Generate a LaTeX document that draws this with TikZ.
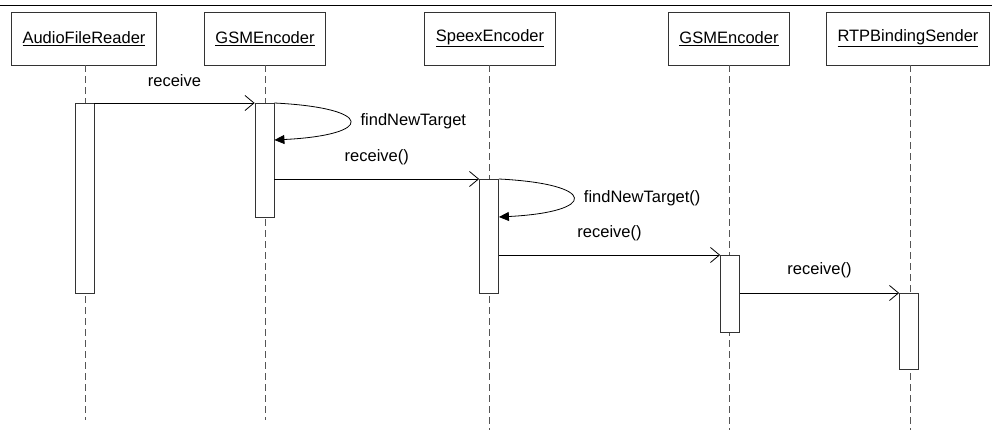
\documentclass[tikz,border=0pt]{standalone}
\usepackage{fontspec}
\setmainfont{Liberation Sans}
\usetikzlibrary{arrows.meta,positioning}
\definecolor{sqline}{HTML}{333333}
\definecolor{sqlife}{HTML}{555555}
\tikzset{
  obj/.style={draw=sqline,fill=white,line width=0.8pt,minimum height=53pt,inner xsep=11pt,font=\fontsize{16.5}{19}\selectfont},
  act/.style={draw=sqline,fill=white,line width=0.8pt,minimum width=19pt,inner sep=0pt,anchor=north},
  life/.style={draw=sqlife,line width=0.7pt,dash pattern=on 7pt off 4pt},
  msg/.style={-{Straight Barb[length=9pt,width=15pt]},line width=0.8pt,draw=black},
  self/.style={-{Triangle[length=10pt,width=9pt]},line width=0.8pt,draw=black},
  lbl/.style={font=\fontsize{16.5}{19}\selectfont},
}
\begin{document}
\begin{tikzpicture}[x=1pt,y=-1pt]
  \useasboundingbox (0,0) rectangle (992,430);
  \draw[line width=0.8pt] (0,5) -- (992,5);
  % objects
  \node[obj] (afr) at (84,38.5) {\underline{AudioFileReader}};
  \node[obj] (gsmA) at (265,38.5) {\underline{GSMEncoder}};
  \node[obj] (spx) at (490,38.5) {\underline{SpeexEncoder}};
  \node[obj] (gsmB) at (729,38.5) {\underline{GSMEncoder}};
  \node[obj] (rtp) at (908,38.5) {\underline{RTPBindingSender}};
  % lifelines
  \coordinate (afrEnd) at (85,420);
  \coordinate (gsmAEnd) at (265,420);
  \coordinate (spxEnd) at (489,430);
  \coordinate (gsmBEnd) at (729,430);
  \coordinate (rtpEnd) at (910,430);
  \draw[life] (afr.south -| afrEnd) -- (afrEnd);
  \draw[life] (gsmA.south -| gsmAEnd) -- (gsmAEnd);
  \draw[life] (spx.south -| spxEnd) -- (spxEnd);
  \draw[life] (gsmB.south -| gsmBEnd) -- (gsmBEnd);
  \draw[life] (rtp.south -| rtpEnd) -- (rtpEnd);
  % activations
  \node[act,minimum height=190pt] (a1) at (84.5,103) {};
  \node[act,minimum height=114pt] (a2) at (264.5,103) {};
  \node[act,minimum height=114pt] (a3) at (489,179) {};
  \node[act,minimum height=77pt] (a4) at (730,255) {};
  \node[act,minimum height=76pt] (a5) at (909,293) {};
  \coordinate (ret1) at ([yshift=-37pt]a2.north east);
  \coordinate (ret2) at ([yshift=-38pt]a3.north east);
  % messages
  \draw[msg] (a1.north east) -- node[lbl,midway,yshift=22pt] {receive} (a2.north west);
  \draw[self] (a2.north east) .. controls (375,108) and (375,135) .. node[lbl,pos=0.5,anchor=west,xshift=7pt] {findNewTarget} (ret1);
  \draw[msg] (a2.east |- a3.north west) -- node[lbl,midway,yshift=22pt] {receive()} (a3.north west);
  \draw[self] (a3.north east) .. controls (598,184) and (598,212) .. node[lbl,pos=0.5,anchor=west,xshift=7pt] {findNewTarget()} (ret2);
  \draw[msg] (a3.east |- a4.north west) -- node[lbl,midway,yshift=22pt] {receive()} (a4.north west);
  \draw[msg] (a4.east |- a5.north west) -- node[lbl,midway,yshift=23pt] {receive()} (a5.north west);
\end{tikzpicture}
\end{document}
